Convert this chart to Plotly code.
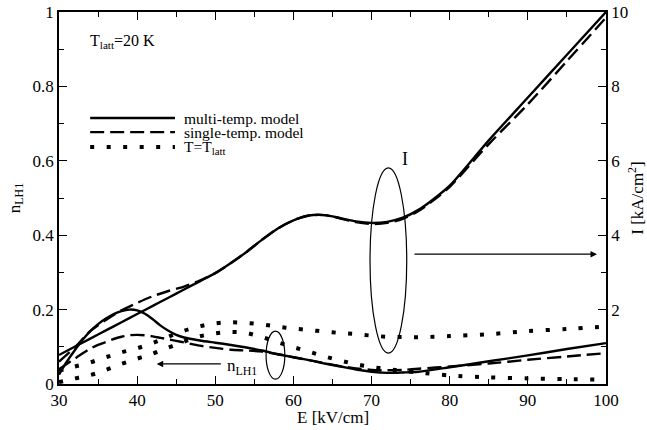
import plotly.graph_objects as go

# ---------------- data ----------------
E_grid = [30, 32, 34, 36, 38, 40, 42, 44, 46, 48, 50, 52, 54, 56, 58, 60, 62, 64,
          66, 68, 70, 72, 74, 76, 78, 80, 85, 90, 95, 100]

# current I [kA/cm^2] (right axis)
I_multi = [0.78, 1.00, 1.22, 1.44, 1.66, 1.88, 2.10, 2.32, 2.54, 2.76, 2.98, 3.25,
           3.55, 3.88, 4.18, 4.40, 4.53, 4.54, 4.46, 4.37, 4.33, 4.36, 4.47, 4.68,
           4.98, 5.33, 6.55, 7.70, 8.85, 10.0]
I_single = [0.60, 0.98, 1.42, 1.72, 1.98, 2.18, 2.36, 2.50, 2.62, 2.78, 2.98, 3.25,
            3.55, 3.88, 4.18, 4.40, 4.53, 4.54, 4.45, 4.35, 4.30, 4.33, 4.44, 4.65,
            4.95, 5.30, 6.45, 7.52, 8.68, 9.85]
I_latt = [0.36, 0.47, 0.58, 0.72, 0.85, 0.96, 1.10, 1.27, 1.43, 1.55, 1.63, 1.66,
          1.64, 1.60, 1.54, 1.49, 1.45, 1.41, 1.37, 1.34, 1.30, 1.27, 1.26, 1.26,
          1.27, 1.29, 1.34, 1.42, 1.48, 1.54]

# n_LH1 (left axis)
E_n = [30, 31, 32, 33, 34, 35, 36, 37, 38, 39, 40, 41, 42, 43, 44, 45, 46, 48, 50,
       52, 54, 56, 58, 60, 62, 64, 66, 68, 70, 72, 74, 76, 80, 85, 90, 95, 100]
n_multi = [0.025, 0.060, 0.090, 0.118, 0.142, 0.161, 0.176, 0.188, 0.196, 0.200,
           0.198, 0.189, 0.174, 0.157, 0.143, 0.132, 0.125, 0.117, 0.111, 0.105,
           0.098, 0.090, 0.080, 0.072, 0.064, 0.055, 0.047, 0.039, 0.033, 0.030,
           0.031, 0.033, 0.045, 0.061, 0.077, 0.094, 0.110]
n_single = [0.040, 0.054, 0.068, 0.082, 0.095, 0.105, 0.113, 0.121, 0.127, 0.131,
            0.132, 0.131, 0.128, 0.124, 0.120, 0.116, 0.112, 0.103, 0.097, 0.092,
            0.090, 0.087, 0.080, 0.072, 0.064, 0.056, 0.048, 0.042, 0.038, 0.037,
            0.038, 0.041, 0.047, 0.055, 0.065, 0.074, 0.083]
n_latt = [0.005, 0.010, 0.015, 0.019, 0.024, 0.030, 0.038, 0.046, 0.054, 0.061,
          0.068, 0.075, 0.082, 0.090, 0.098, 0.106, 0.114, 0.128, 0.136, 0.140,
          0.137, 0.126, 0.112, 0.099, 0.087, 0.074, 0.063, 0.053, 0.046, 0.040,
          0.035, 0.031, 0.023, 0.018, 0.015, 0.013, 0.012]

legend_labels = ["multi-temp. model", "single-temp. model", "T=T<sub>latt</sub>"]

# ---------------- styles ----------------
FONT = "Liberation Serif, Times New Roman, Times, serif"
SOLID = dict(color="black", width=2.4)
DASH = dict(color="black", width=2.4, dash="14px,6px")
DOT = dict(color="black", width=4, dash="4px,12.5px")

fig = go.Figure()
for y, st in [(n_multi, SOLID), (n_single, DASH), (n_latt, DOT)]:
    fig.add_trace(go.Scatter(x=E_n, y=y, mode="lines", line=dict(shape="spline", smoothing=0.8, **st),
                             yaxis="y", hoverinfo="skip"))
for y, st in [(I_multi, SOLID), (I_single, DASH), (I_latt, DOT)]:
    fig.add_trace(go.Scatter(x=E_grid, y=y, mode="lines", line=dict(shape="spline", smoothing=0.8, **st),
                             yaxis="y2", hoverinfo="skip"))

tickfont = dict(family=FONT, size=17, color="black")

fig.update_layout(
    width=647, height=430,
    margin=dict(l=59, r=41, t=12, b=46, autoexpand=False),
    paper_bgcolor="white", plot_bgcolor="white",
    showlegend=False,
    font=dict(family=FONT, size=17, color="black"),
    xaxis=dict(range=[30, 100], dtick=10, tick0=30, ticks="inside", ticklen=8, tickwidth=1.3,
               minor=dict(ticks="inside", ticklen=5, dtick=5, tick0=30, tickwidth=1.3, tickcolor="black"),
               showline=True, linewidth=1.5, linecolor="black", mirror="ticks",
               showgrid=False, zeroline=False, tickfont=tickfont, tickcolor="black", automargin=False),
    yaxis=dict(range=[0, 1], tickmode="array", tickvals=[0, 0.2, 0.4, 0.6, 0.8, 1.0],
               ticktext=["0", "0.2", "0.4", "0.6", "0.8", "1"],
               ticks="inside", ticklen=8, tickwidth=1.3, tickcolor="black",
               minor=dict(ticks="inside", ticklen=5, dtick=0.1, tick0=0, tickwidth=1.3, tickcolor="black"),
               showline=True, linewidth=1.5, linecolor="black", automargin=False,
               showgrid=False, zeroline=False, tickfont=tickfont,
               title=dict(text="n<sub>LH1</sub>", font=dict(family=FONT, size=17), standoff=8)),
    yaxis2=dict(range=[0, 10], overlaying="y", side="right", tickmode="array",
                tickvals=[0, 2, 4, 6, 8, 10], ticktext=["", "2", "4", "6", "8", "10"],
                ticks="inside", ticklen=8, tickwidth=1.3, tickcolor="black",
                minor=dict(ticks="inside", ticklen=5, tickmode="array", tickvals=[1, 3, 5, 7, 9],
                           tickwidth=1.3, tickcolor="black"),
                showline=True, linewidth=1.5, linecolor="black", automargin=False,
                showgrid=False, zeroline=False, tickfont=tickfont,
                title=dict(text="I [kA/cm<sup>2</sup>]", font=dict(family=FONT, size=17), standoff=8)),
)

# x-axis title
fig.add_annotation(xref="paper", yref="paper", x=0.5, y=-0.09, text="E [kV/cm]", showarrow=False,
                   xanchor="center", yanchor="middle", font=dict(family=FONT, size=17))

# ---------------- legend drawn manually ----------------
leg_y = [0.715, 0.677, 0.637]
for ly, st, lab in zip(leg_y, [SOLID, DASH, DOT], legend_labels):
    fig.add_shape(type="line", xref="paper", yref="paper", x0=0.057, x1=0.212, y0=ly, y1=ly,
                  line=st)
    fig.add_annotation(xref="paper", yref="paper", x=0.225, y=ly, text=lab, showarrow=False,
                       xanchor="left", yanchor="middle", font=dict(family=FONT, size=15.5))

fig.add_annotation(xref="paper", yref="paper", x=0.053, y=0.92, text="T<sub>latt</sub>=20 K",
                   showarrow=False, xanchor="left", yanchor="middle", font=dict(family=FONT, size=16))

# ellipses and arrows
fig.add_shape(type="circle", xref="x", yref="y", x0=69.8, x1=74.5, y0=0.083, y1=0.581,
              line=dict(color="black", width=1.2))
fig.add_annotation(xref="x", yref="y", x=73.6, y=0.605, text="I", showarrow=False,
                   xanchor="left", yanchor="middle", font=dict(family=FONT, size=18))
fig.add_annotation(xref="x", yref="y", axref="x", ayref="y", x=98.85, y=0.349, ax=75.3, ay=0.349,
                   text="", showarrow=True, arrowhead=2, arrowsize=1, arrowwidth=1.3, arrowcolor="black")

fig.add_shape(type="circle", xref="x", yref="y", x0=56.5, x1=58.9, y0=0.013, y1=0.142,
              line=dict(color="black", width=1.2))
fig.add_annotation(xref="x", yref="y", axref="x", ayref="y", x=42.5, y=0.054, ax=50.9, ay=0.054,
                   text="", showarrow=True, arrowhead=2, arrowsize=1, arrowwidth=1.3, arrowcolor="black")
fig.add_annotation(xref="x", yref="y", x=51.2, y=0.045, text="n<sub>LH1</sub>", showarrow=False,
                   xanchor="left", yanchor="middle", font=dict(family=FONT, size=17))

fig.write_html("out.html")
